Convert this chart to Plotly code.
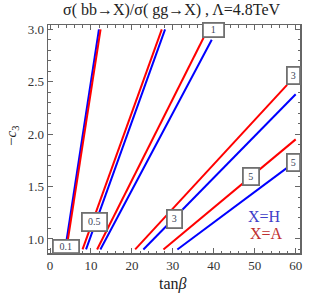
import plotly.graph_objects as go

# contour levels (ratio values)
levels = ["0.1", "0.5", "1", "3", "5"]

# X = H (blue) contour segments: start (tanβ, -c3) and end (tanβ, -c3)
h_x0 = [3.7, 8.8, 12.3, 22.8, 31.1]
h_y0 = [0.90, 0.90, 0.90, 0.90, 0.90]
h_x1 = [11.95, 28.1, 39.5, 60.0, 60.0]
h_y1 = [3.00, 3.00, 2.90, 2.38, 1.74]

# X = A (red) contour segments
a_x0 = [4.0, 7.95, 11.5, 20.8, 27.7]
a_y0 = [0.90, 0.90, 0.90, 0.90, 0.90]
a_x1 = [12.35, 27.3, 37.5, 57.9, 60.0]
a_y1 = [3.00, 3.00, 2.92, 2.47, 1.95]

# contour label texts and their placements
label_text = ["0.1", "0.5", "1", "3", "3", "5", "5"]
label_x = [3.98, 10.95, 39.9, 30.4, 59.5, 49.2, 59.5]
label_y = [0.93, 1.165, 2.99, 1.19, 2.557, 1.593, 1.73]
label_w = [24, 23, 19, 13, 11, 14, 11]
label_h = [11, 16, 12, 16, 15, 15, 15]

x_ticks = [0, 10, 20, 30, 40, 50, 60]
y_ticks = [1.0, 1.5, 2.0, 2.5, 3.0]

SERIF = "Liberation Serif"
L, R, T, B = 48, 27, 25, 41
PW, PH = 327 - L - R, 294 - T - B


def px_to_paper(px, py):
    return (px - L) / PW, (294 - B - py) / PH


fig = go.Figure()
for i in range(len(levels)):
    fig.add_trace(go.Scatter(x=[h_x0[i], h_x1[i]], y=[h_y0[i], h_y1[i]], mode="lines",
                             line=dict(color="#0000ff", width=2), showlegend=False,
                             hoverinfo="skip"))
    fig.add_trace(go.Scatter(x=[a_x0[i], a_x1[i]], y=[a_y0[i], a_y1[i]], mode="lines",
                             line=dict(color="#ff0000", width=2), showlegend=False,
                             hoverinfo="skip"))

annotations = []
for t, x, y, w, h in zip(label_text, label_x, label_y, label_w, label_h):
    annotations.append(dict(x=x, y=y, xref="x", yref="y", text=t, showarrow=False,
                            font=dict(family=SERIF, size=10, color="#3a4458"),
                            bgcolor="white", bordercolor="#707070", borderwidth=1.8,
                            borderpad=0, width=w, height=h))

annotations.append(dict(x=52.5, y=1.21, xref="x", yref="y", text="X=H", showarrow=False,
                        font=dict(family=SERIF, size=16, color="#4040c8")))
annotations.append(dict(x=52.8, y=1.05, xref="x", yref="y", text="X=A", showarrow=False,
                        font=dict(family=SERIF, size=16, color="#c03030")))

tx, ty = px_to_paper(172, 10)
annotations.append(dict(x=tx, y=ty, xref="paper", yref="paper",
                        text="σ( bb→X)/σ( gg→X) , Λ=4.8TeV", showarrow=False,
                        xanchor="center", yanchor="middle",
                        font=dict(family=SERIF, size=16, color="#222")))
xx, xy = px_to_paper(173, 284)
annotations.append(dict(x=xx, y=xy, xref="paper", yref="paper", text="tan<i>β</i>",
                        showarrow=False, xanchor="center", yanchor="middle",
                        font=dict(family=SERIF, size=16, color="#222")))
yx, yy = px_to_paper(12, 136)
annotations.append(dict(x=yx, y=yy, xref="paper", yref="paper", text="−<i>c</i><sub>3</sub>",
                        showarrow=False, xanchor="center", yanchor="middle", textangle=-90,
                        font=dict(family=SERIF, size=15, color="#222")))

fig.update_layout(
    width=327, height=294,
    margin=dict(l=L, r=R, t=T, b=B, autoexpand=False),
    plot_bgcolor="white", paper_bgcolor="white",
    annotations=annotations,
    font=dict(family=SERIF, size=13, color="#333"),
)

fig.update_xaxes(range=[-0.49, 61.05], tickvals=x_ticks, ticks="inside", ticklen=5,
                 tickcolor="#666", showline=True, linecolor="#666", linewidth=1.5,
                 mirror="ticks", showgrid=False, zeroline=False, automargin=False,
                 minor=dict(dtick=2, ticks="inside", ticklen=2.5, tickcolor="#666", showgrid=False),
                 tickfont=dict(family=SERIF, size=13, color="#333"))
fig.update_yaxes(range=[0.866, 3.041], tickvals=y_ticks, ticktext=[f"{v:.1f}" for v in y_ticks],
                 ticks="inside", ticklen=5, tickcolor="#666", showline=True, linecolor="#666",
                 linewidth=1.5, mirror="ticks", showgrid=False, zeroline=False, automargin=False,
                 minor=dict(dtick=0.1, tick0=1.0, ticks="inside", ticklen=2.5, tickcolor="#666", showgrid=False),
                 tickfont=dict(family=SERIF, size=13, color="#333"))

fig.write_html("out.html",
               config={"displayModeBar": False, "staticPlot": True},
               post_script="document.body.style.margin='0';document.body.style.overflow='hidden';")
